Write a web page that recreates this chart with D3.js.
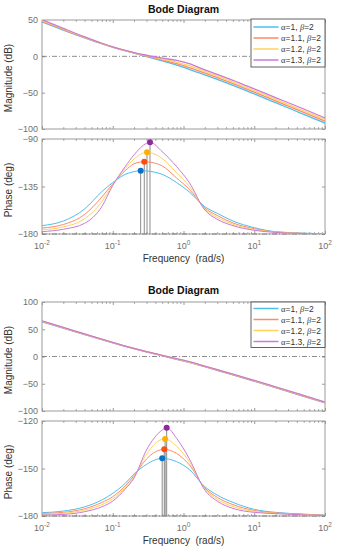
<!DOCTYPE html>
<html>
<head>
<meta charset="utf-8">
<script src="https://cdn.jsdelivr.net/npm/d3@7"></script>
<style>
  body { margin: 0; background: #fff; }
  svg { display: block; font-family: 'Liberation Sans', Arial, sans-serif; }
</style>
</head>
<body>
<svg id="chart" width="342" height="550"></svg>
<script>
// frequency grid (rad/s) the values were read at
const freq = [0.01, 0.02, 0.04, 0.07, 0.1, 0.15, 0.2, 0.3, 0.5, 0.8, 1.2, 2, 3, 5, 10, 20, 50, 100];
const alphas = ['1', '1.1', '1.2', '1.3'];
const betaValue = '2';
const xTickValues = [0.01, 0.1, 1, 10, 100];
const xTickExps = ['-2', '-1', '0', '1', '2'];

// upper diagram
const topMagA10 = [47.3, 36.2, 25.5, 17.4, 12.7, 7.7, 4.3, -0.3, -6.3, -12.1, -17.8, -25.5, -31.8, -40, -51.8, -63.8, -79.8, -91.8];
const topMagA11 = [48.3, 36.9, 25.9, 17.6, 12.8, 7.9, 4.6, 0.3, -5.0, -10.2, -15.5, -23.0, -29.3, -37.6, -49.3, -61.3, -77.2, -89.3];
const topMagA12 = [49.4, 37.6, 26.3, 17.8, 12.9, 8.0, 4.8, 0.9, -3.8, -7.9, -12.8, -20.7, -27, -35.3, -47, -59, -74.9, -87];
const topMagA13 = [50.5, 38.5, 26.8, 18.0, 13.0, 8.1, 5.0, 1.5, -2.5, -5.5, -10, -18.5, -24.8, -33, -44.8, -56.7, -72.5, -84.8];
const topPhaseA10 = [-172.1, -167.7, -156.3, -139.9, -131.3, -123.5, -120.9, -120.3, -123.5, -131.3, -140, -154.1, -160.4, -167.7, -174, -177.8, -179.2, -179.8];
const topPhaseA11 = [-174.3, -171, -161.5, -145, -132.5, -120, -113.5, -111.6, -115.5, -127, -137.5, -155.3, -162.5, -169.5, -175, -178.1, -179.4, -179.9];
const topPhaseA12 = [-175.9, -173.3, -165.5, -149.5, -133.3, -118, -109, -102.7, -108.5, -122, -134.5, -156.2, -164.3, -170.8, -175.8, -178.3, -179.5, -179.9];
const topPhaseA13 = [-177.8, -175.5, -169.9, -154.1, -134, -116.2, -105, -94.1, -102, -116.2, -131, -157.2, -166.1, -172.1, -176.5, -178.5, -179.6, -180];
const topPeakFreq = [0.248, 0.279, 0.305, 0.336];
const topPeakPhase = [-120, -111.5, -102.6, -93.1];

// lower diagram
const botMagA10 = [63.8, 52, 40.3, 31, 25.2, 18.8, 14.5, 8.6, 1.4, -5.2, -11.0, -18.8, -25.3, -33.6, -45.3, -57.2, -73, -85];
const botMagA11 = [64.4, 52.5, 40.7, 31.3, 25.4, 18.9, 14.6, 8.7, 1.7, -4.8, -10.5, -18.4, -24.8, -33.1, -44.8, -56.7, -72.5, -84.5];
const botMagA12 = [65, 53, 41.1, 31.6, 25.6, 19.1, 14.7, 8.8, 2.0, -4.3, -10.1, -18, -24.3, -32.6, -44.3, -56.2, -72, -84];
const botMagA13 = [65.5, 53.5, 41.5, 31.8, 25.8, 19.2, 14.7, 8.9, 2.2, -3.9, -9.6, -17.5, -23.9, -32.2, -43.8, -55.7, -71.5, -83.5];
const botPhaseA10 = [-177.9, -176.9, -174.2, -169.9, -165.7, -159.4, -153.5, -147.4, -143.6, -145.7, -150.5, -161.5, -166.8, -171.4, -175.8, -177.7, -178.8, -179.5];
const botPhaseA11 = [-178.4, -177.7, -175.4, -171.5, -167.8, -161, -154.5, -144, -138, -140.5, -147.5, -162.2, -168.2, -172.8, -176.5, -178, -179, -179.6];
const botPhaseA12 = [-178.9, -178.3, -176.3, -172.9, -169.2, -162, -155.2, -141, -131.6, -136, -145.5, -162.9, -169.4, -174, -177.1, -178.3, -179.2, -179.7];
const botPhaseA13 = [-179.4, -179, -177.3, -174.2, -170.6, -163, -156, -138.3, -125.7, -131, -143.6, -163.6, -170.6, -175.2, -177.7, -178.5, -179.3, -179.7];
const botPeakFreq = [0.5, 0.535, 0.55, 0.578];
const botPeakPhase = [-143.6, -137.9, -131.4, -124.2];

const lineColors = ['#4DBEEE', '#FF8A65', '#FFD25E', '#C87BD8'];
const dotColors = ['#0A72C4', '#FF4C12', '#FFB000', '#8E2A99'];

const svg = d3.select('#chart');
const left = 42;
const right = 325;
const axisGray = '#9a9a9a';
const labelGray = '#707070';

const x = d3.scaleLog().domain([0.01, 100]).range([left, right]);

const xMinor = [];
for (let d = -2; d < 2; d++) {
  for (let m = 2; m < 10; m++) xMinor.push(m * Math.pow(10, d));
}

function styleAxis(g) {
  g.select('.domain').remove();
  g.selectAll('line').attr('stroke', axisGray);
  g.selectAll('text')
    .attr('fill', labelGray)
    .attr('font-size', 9)
    .attr('font-family', "'Liberation Sans', Arial, sans-serif");
}

function drawPanel(top, bottom, domain, yTicks, refValue, clipId) {
  const y = d3.scaleLinear().domain(domain).range([bottom, top]);

  svg.append('clipPath')
    .attr('id', clipId)
    .append('rect')
    .attr('x', left)
    .attr('y', top)
    .attr('width', right - left)
    .attr('height', bottom - top);

  svg.append('rect')
    .attr('x', left)
    .attr('y', top)
    .attr('width', right - left)
    .attr('height', bottom - top)
    .attr('fill', 'none')
    .attr('stroke', axisGray)
    .attr('stroke-width', 1);

  svg.append('g')
    .attr('transform', `translate(${left},0)`)
    .call(d3.axisLeft(y).tickValues(yTicks).tickSize(-3).tickPadding(4))
    .call(styleAxis);

  svg.append('g')
    .attr('transform', `translate(${right},0)`)
    .call(d3.axisRight(y).tickValues(yTicks).tickSize(-3).tickFormat(() => ''))
    .call(styleAxis);

  [[top, d3.axisTop], [bottom, d3.axisBottom]].forEach(([yy, axisFn]) => {
    svg.append('g')
      .attr('transform', `translate(0,${yy})`)
      .call(axisFn(x).tickValues(xTickValues).tickSize(-3).tickFormat(() => ''))
      .call(styleAxis);
    svg.append('g')
      .attr('transform', `translate(0,${yy})`)
      .call(axisFn(x).tickValues(xMinor).tickSize(-1.8).tickFormat(() => ''))
      .call(styleAxis);
  });

  svg.append('line')
    .attr('x1', left)
    .attr('x2', right)
    .attr('y1', y(refValue))
    .attr('y2', y(refValue))
    .attr('stroke', '#707070')
    .attr('stroke-width', 0.8)
    .attr('stroke-dasharray', '5,2,1,2');

  return y;
}

function drawCurves(y, clipId, series, width, points) {
  const line = d3.line()
    .x((d) => x(d[0]))
    .y((d) => y(d[1]))
    .curve(d3.curveMonotoneX);

  svg.append('g')
    .attr('clip-path', `url(#${clipId})`)
    .selectAll('path')
    .data(series)
    .enter()
    .append('path')
    .attr('d', (values, i) => {
      let pts = freq.map((f, k) => [f, values[k]]);
      if (points) {
        const pf = points.freq[i];
        pts = pts.filter((p) => Math.abs(Math.log10(p[0] / pf)) > 0.02);
        pts.push([pf, points.phase[i]]);
        pts.sort((a, b) => a[0] - b[0]);
      }
      return line(pts);
    })
    .attr('fill', 'none')
    .attr('stroke', (d, i) => lineColors[i])
    .attr('stroke-width', width);
}

function drawLegend(top, height, first) {
  const lg = svg.append('g').attr('transform', `translate(251,${top})`);
  lg.append('rect')
    .attr('width', 74)
    .attr('height', height)
    .attr('fill', '#fff')
    .attr('stroke', '#3c3c3c')
    .attr('stroke-width', 0.8);

  alphas.forEach((a, i) => {
    const yy = first + i * 11;
    lg.append('line')
      .attr('x1', 2.5)
      .attr('x2', 27.5)
      .attr('y1', yy)
      .attr('y2', yy)
      .attr('stroke', lineColors[i])
      .attr('stroke-width', 1.5);
    const t = lg.append('text')
      .attr('x', 30)
      .attr('y', yy + 3)
      .attr('font-size', 8.5)
      .attr('fill', '#333');
    t.append('tspan').attr('font-family', "'Liberation Serif', serif").text('\u03b1');
    t.append('tspan').text(`=${a}, `);
    t.append('tspan').attr('font-family', "'Liberation Serif', serif").attr('font-style', 'italic').text('\u03b2');
    t.append('tspan').text(`=${betaValue}`);
  });
}

function drawText(tx, ty, text, opts) {
  const t = svg.append('text')
    .attr('x', tx)
    .attr('y', ty)
    .attr('text-anchor', 'middle')
    .attr('font-size', opts.size)
    .attr('fill', opts.fill)
    .text(text);
  if (opts.bold) t.attr('font-weight', 'bold');
  if (opts.rotate) t.attr('transform', `rotate(-90,${tx},${ty})`);
  return t;
}

function drawDiagram(o) {
  drawText((left + right) / 2, o.titleY, 'Bode Diagram', { size: 10.5, fill: '#111', bold: true });

  const yMag = drawPanel(o.magTop, o.magBottom, o.magDomain, o.magTicks, 0, o.id + 'mag');
  drawCurves(yMag, o.id + 'mag', o.mag, 1.3);

  const yPh = drawPanel(o.phTop, o.phBottom, o.phDomain, o.phTicks, -180, o.id + 'ph');

  // stems from each phase peak down to -180
  svg.append('g')
    .selectAll('line')
    .data(o.peakFreq)
    .enter()
    .append('line')
    .attr('x1', (d) => x(d))
    .attr('x2', (d) => x(d))
    .attr('y1', (d, i) => yPh(o.peakPhase[i]))
    .attr('y2', yPh(-180))
    .attr('stroke', '#8c8c8c')
    .attr('stroke-width', 1);

  drawCurves(yPh, o.id + 'ph', o.phase, 1, { freq: o.peakFreq, phase: o.peakPhase });

  svg.append('g')
    .selectAll('circle')
    .data(o.peakFreq)
    .enter()
    .append('circle')
    .attr('cx', (d) => x(d))
    .attr('cy', (d, i) => yPh(o.peakPhase[i]))
    .attr('r', 3)
    .attr('fill', (d, i) => dotColors[i]);

  // frequency tick labels with exponents
  xTickValues.forEach((v, i) => {
    const t = svg.append('text')
      .attr('x', x(v))
      .attr('y', o.phBottom + 15)
      .attr('text-anchor', 'middle')
      .attr('font-size', 9)
      .attr('fill', labelGray);
    t.append('tspan').text('10');
    t.append('tspan').attr('dy', -4).attr('font-size', 6.5).text(xTickExps[i]);
  });

  drawText(11.5, (o.magTop + o.magBottom) / 2 + 3.5, 'Magnitude (dB)', { size: 10, fill: '#333', rotate: true });
  drawText(11.5, (o.phTop + o.phBottom) / 2 + 3.5, 'Phase (deg)', { size: 10, fill: '#333', rotate: true });
  drawText((left + right) / 2, o.phBottom + 27.5, 'Frequency  (rad/s)', { size: 10, fill: '#333' })
    .style('white-space', 'pre');

  drawLegend(o.legendTop, o.legendHeight, o.legendFirst);
}

drawDiagram({
  id: 'top',
  titleY: 12.5,
  magTop: 20,
  magBottom: 129,
  magDomain: [-100, 50],
  magTicks: [-100, -50, 0, 50],
  mag: [topMagA10, topMagA11, topMagA12, topMagA13],
  phTop: 139,
  phBottom: 234,
  phDomain: [-180, -90],
  phTicks: [-180, -135, -90],
  phase: [topPhaseA10, topPhaseA11, topPhaseA12, topPhaseA13],
  peakFreq: topPeakFreq,
  peakPhase: topPeakPhase,
  legendTop: 19,
  legendHeight: 48,
  legendFirst: 8
});

drawDiagram({
  id: 'bot',
  titleY: 294,
  magTop: 302,
  magBottom: 411,
  magDomain: [-100, 100],
  magTicks: [-100, -50, 0, 50, 100],
  mag: [botMagA10, botMagA11, botMagA12, botMagA13],
  phTop: 421,
  phBottom: 516,
  phDomain: [-180, -120],
  phTicks: [-180, -150, -120],
  phase: [botPhaseA10, botPhaseA11, botPhaseA12, botPhaseA13],
  peakFreq: botPeakFreq,
  peakPhase: botPeakPhase,
  legendTop: 302,
  legendHeight: 45.5,
  legendFirst: 6.5
});
</script>
</body>
</html>
